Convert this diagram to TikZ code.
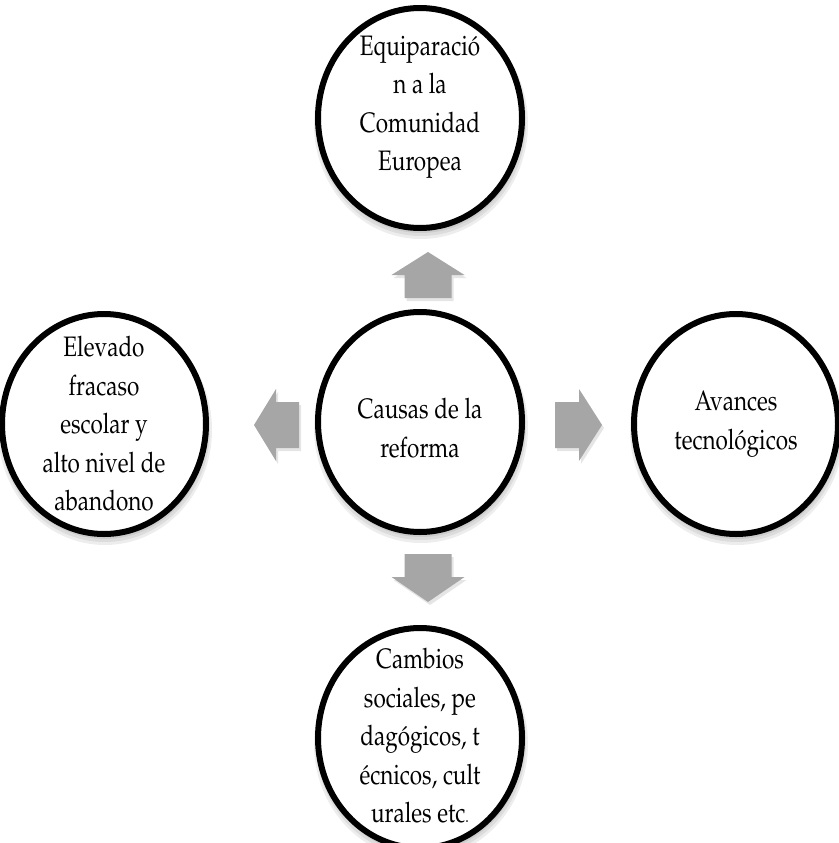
\documentclass[tikz,border=0pt]{standalone}
\usepackage[T1]{fontenc}
\usepackage{mathpazo}
\usetikzlibrary{shapes.geometric}
\definecolor{arrowgray}{HTML}{A6A6A6}
\tikzset{
  bubble/.style={ellipse, draw=black, line width=6pt, fill=white, inner sep=0pt,
    minimum width=204pt, minimum height=220pt},
  bubshadow/.style={ellipse, fill=black, opacity=0.07, inner sep=0pt,
    minimum width=#1, minimum height=#1+16pt},
  txt/.style={align=center, inner sep=0pt, yscale=1.25,
    font=\fontsize{22.5}{30.8}\selectfont},
  blockarrow/.style={fill=arrowgray, draw=none},
  arrshadow/.style={fill=black, opacity=0.10, draw=none}
}
\begin{document}
\begin{tikzpicture}[x=1pt,y=-1pt]
\useasboundingbox (0,0) rectangle (838,843);
\fill[white] (0,0) rectangle (838,843);
% soft shadows of the circles
\foreach \cx/\cy [count=\i] in {420/118,420/422,104/424,736/424,420/738}{
  \node[bubshadow=206pt] (sha\i) at (\cx+1,\cy+4) {};
  \node[bubshadow=210pt] (shb\i) at (\cx+1,\cy+5) {};
  \node[bubshadow=214pt] (shc\i) at (\cx+1,\cy+6) {};
}
% circles
\node[bubble] (top) at (420,118) {};
\node[bubble] (ctr) at (420,422) {};
\node[bubble] (lft) at (104,424) {};
\node[bubble] (rgt) at (736,424) {};
\node[bubble] (bot) at (420,738) {};
% texts
\node[txt] (ttop) at ([yshift=11]top.center) {Equiparaci\'o\\n a la\\Comunidad\\Europea};
\node[txt] (tctr) at ([yshift=-6]ctr.center) {Causas de la\\reforma};
\node[txt] (tlft) at (lft.center) {Elevado\\fracaso\\escolar y\\alto nivel de\\abandono};
\node[txt] (trgt) at (rgt.center) {Avances\\tecnol\'ogicos};
\node[txt] (tbot) at ([yshift=2]bot.center) {Cambios\\sociales, pe\\dag\'ogicos, t\\\'ecnicos, cult\\urales etc{\fontsize{14}{14}\selectfont.}};
% block arrows
\begin{scope}[shift={(2,3)}]
\fill[arrshadow] (404.5,298) -- (404.5,275) -- (391.5,275) -- (428,252) -- (464.5,275) -- (451.5,275) -- (451.5,298) -- cycle;
\fill[arrshadow] (404.5,554) -- (404.5,577) -- (391.5,577) -- (428,602) -- (464.5,577) -- (451.5,577) -- (451.5,554) -- cycle;
\fill[arrshadow] (299,402) -- (276,402) -- (276,389) -- (254,425) -- (276,461) -- (276,448) -- (299,448) -- cycle;
\fill[arrshadow] (555,402) -- (579,402) -- (579,389) -- (602,425) -- (579,461) -- (579,448) -- (555,448) -- cycle;
\end{scope}
\fill[blockarrow] (404.5,298) -- (404.5,275) -- (391.5,275) -- (428,252) -- (464.5,275) -- (451.5,275) -- (451.5,298) -- cycle;
\fill[blockarrow] (404.5,554) -- (404.5,577) -- (391.5,577) -- (428,602) -- (464.5,577) -- (451.5,577) -- (451.5,554) -- cycle;
\fill[blockarrow] (299,402) -- (276,402) -- (276,389) -- (254,425) -- (276,461) -- (276,448) -- (299,448) -- cycle;
\fill[blockarrow] (555,402) -- (579,402) -- (579,389) -- (602,425) -- (579,461) -- (579,448) -- (555,448) -- cycle;
\end{tikzpicture}
\end{document}
